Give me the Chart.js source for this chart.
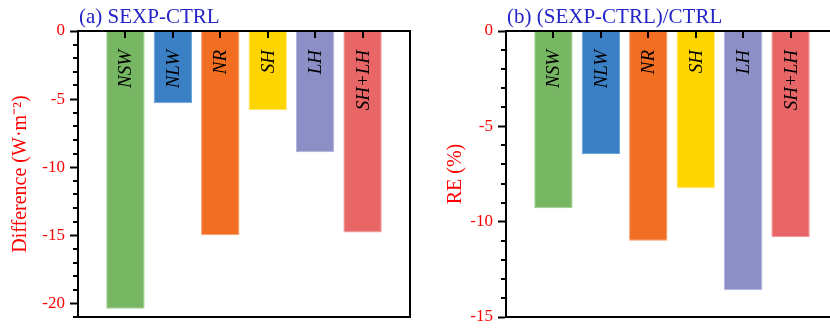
<!DOCTYPE html>
<html>
<head>
<meta charset="utf-8">
<script src="https://cdn.jsdelivr.net/npm/chart.js@4/dist/chart.umd.min.js"></script>
<style>
html,body{margin:0;padding:0;background:#fff;overflow:hidden;width:830px;height:328px;}
#wa{position:absolute;left:0;top:0;}
#wb{position:absolute;left:415px;top:0;}
</style>
</head>
<body>
<div id="wa"><canvas id="ca" width="415" height="328" style="width:415px;height:328px"></canvas></div>
<div id="wb"><canvas id="cb" width="430" height="328" style="width:430px;height:328px"></canvas></div>
<script>
// Data
const categories = ['NSW', 'NLW', 'NR', 'SH', 'LH', 'SH+LH'];
const differenceValues = [-20.4, -5.3, -15.0, -5.8, -8.9, -14.8];   // W·m-2
const relativeValues = [-9.3, -6.45, -11.0, -8.25, -13.6, -10.8];   // %
const barColors = ['#77b763', '#3b80c5', '#f26e22', '#ffd500', '#8b8fc5', '#e86666'];
const barEdges = ['#9fd08f', '#6aa3dc', '#f7a06e', '#ffe46a', '#b0b3dc', '#f19a9a'];
const leftTicks = [0, -5, -10, -15, -20];
const rightTicks = [0, -5, -10, -15];

const SERIF = '"Liberation Serif", "Times New Roman", serif';

function makeChart(canvasId, values, yMin, tickLabels, panelTitle, yTitle, opts) {
  const labels = [''].concat(categories, ['']);
  const data = [null].concat(values, [null]);
  const colors = ['rgba(0,0,0,0)'].concat(barColors, ['rgba(0,0,0,0)']);
  const edges = ['rgba(0,0,0,0)'].concat(barEdges, ['rgba(0,0,0,0)']);

  const framePlugin = {
    id: 'frame',
    afterDatasetsDraw(chart) {
      const ctx = chart.ctx;
      const a = chart.chartArea;
      const x = chart.scales.x, y = chart.scales.y;
      ctx.save();
      // bar labels
      const meta = chart.getDatasetMeta(0);
      ctx.font = 'italic 19px ' + SERIF;
      ctx.fillStyle = '#000';
      ctx.textAlign = 'right';
      ctx.textBaseline = 'middle';
      meta.data.forEach((bar, i) => {
        if (data[i] === null) return;
        ctx.save();
        ctx.translate(bar.x + 1, a.top + 19);
        ctx.rotate(-Math.PI / 2);
        ctx.fillText(labels[i], 0, 0);
        ctx.restore();
      });
      // frame: top and right lines
      ctx.strokeStyle = '#000';
      ctx.lineWidth = 2;
      ctx.beginPath();
      ctx.moveTo(a.left - 1, a.top);
      ctx.lineTo(a.right, a.top);
      ctx.lineTo(a.right, a.bottom + 1);
      ctx.stroke();
      // inward ticks on top axis at category centers
      ctx.beginPath();
      for (let i = 1; i <= categories.length; i++) {
        const px = Math.round(x.getPixelForValue(i));
        ctx.moveTo(px, a.top);
        ctx.lineTo(px, a.top + 7);
      }
      ctx.stroke();
      // minor ticks (outward) on left axis
      ctx.beginPath();
      for (let v = 0; v >= yMin; v--) {
        if (v % 5 === 0) continue;
        const py = Math.round(y.getPixelForValue(v));
        ctx.moveTo(a.left - 5, py);
        ctx.lineTo(a.left, py);
      }
      ctx.stroke();
      // panel title
      ctx.font = '21px ' + SERIF;
      ctx.fillStyle = '#2424c8';
      ctx.textAlign = 'left';
      ctx.textBaseline = 'alphabetic';
      ctx.fillText(panelTitle, a.left + 1, 23);
      ctx.restore();
    }
  };

  return new Chart(document.getElementById(canvasId), {
    type: 'bar',
    data: {
      labels: labels,
      datasets: [{
        data: data,
        backgroundColor: colors,
        borderColor: edges,
        borderWidth: 1,
        categoryPercentage: 1.0,
        barPercentage: 0.81
      }]
    },
    options: {
      responsive: false,
      animation: false,
      layout: { padding: { left: 0, top: 31, right: opts.padRight, bottom: 11 } },
      plugins: { legend: { display: false }, tooltip: { enabled: false }, title: { display: false } },
      scales: {
        x: {
          type: 'category',
          offset: false,
          grid: { display: false, drawTicks: false },
          ticks: { display: false },
          border: { display: true, color: '#000', width: 2 },
          afterFit(s) { s.height = 0; s.paddingLeft = 0; s.paddingRight = 0; }
        },
        y: {
          min: yMin,
          max: 0,
          position: 'left',
          afterFit(s) { s.width = opts.axisWidth; s.paddingTop = 0; s.paddingBottom = 0; },
          afterBuildTicks(s) {
            s.ticks = tickLabels.map(v => ({ value: v }));
          },
          ticks: {
            color: '#ff0000',
            padding: 5,
            font: { family: SERIF, size: 17 },
            callback: (v) => String(v)
          },
          grid: { drawOnChartArea: false, drawTicks: true, tickLength: 8, tickWidth: 2, tickColor: '#000' },
          border: { display: true, color: '#000', width: 2 },
          title: {
            display: true,
            text: yTitle,
            color: '#ff0000',
            font: { family: SERIF, size: 20 },
            padding: { top: opts.titlePad, bottom: 0 }
          }
        }
      }
    },
    plugins: [framePlugin]
  });
}

makeChart('ca', differenceValues, -21, leftTicks, '(a) SEXP-CTRL', 'Difference (W·m⁻²)', { padRight: 5, axisWidth: 78, titlePad: 9 });
makeChart('cb', relativeValues, -15, rightTicks, '(b) (SEXP-CTRL)/CTRL', 'RE (%)', { padRight: 7, axisWidth: 91, titlePad: 29 });
</script>
</body>
</html>
